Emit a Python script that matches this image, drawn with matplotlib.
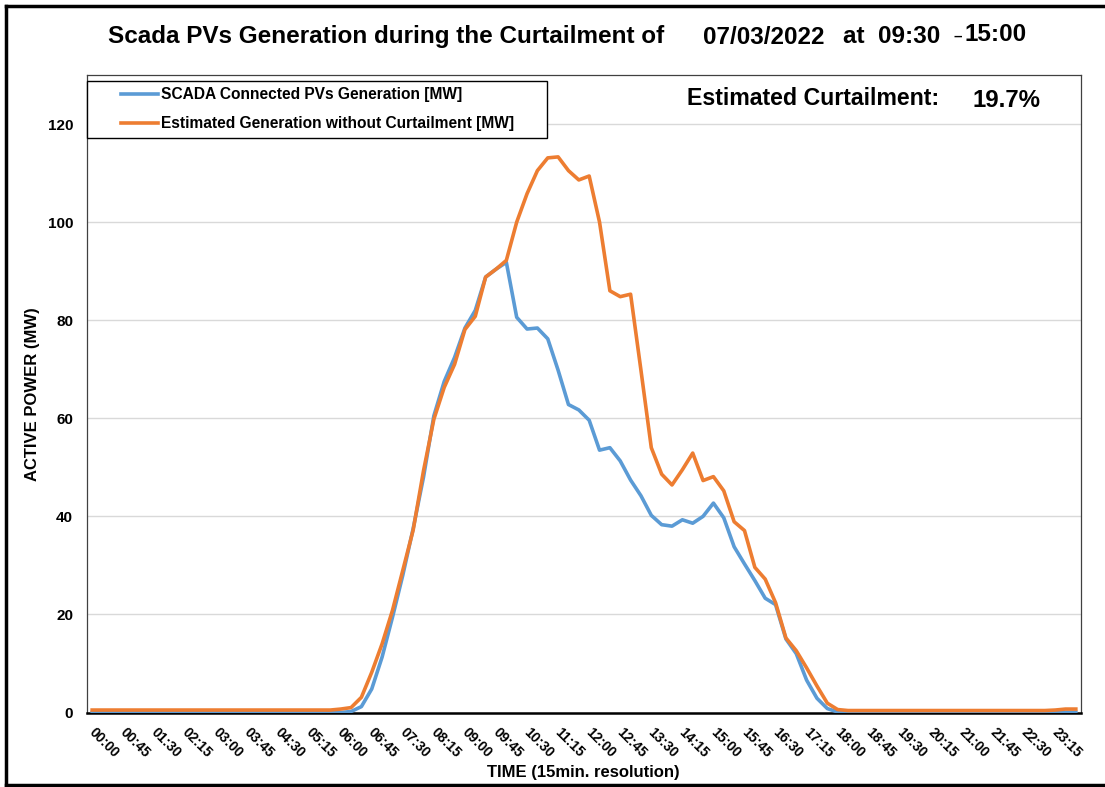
import numpy as np
import matplotlib
matplotlib.use("Agg")
import matplotlib.pyplot as plt
import matplotlib.transforms as mtransforms
from matplotlib.patches import Rectangle
from matplotlib.lines import Line2D

plt.rcParams['font.family'] = ['Liberation Sans', 'DejaVu Sans']
plt.rcParams['font.weight'] = 'bold'

# 15 min categories for one day
times = ["%02d:%02d" % (h, m) for h in range(24) for m in (0, 15, 30, 45)]

# SCADA measured generation [MW]
scada = [0.0] * 25 + [
    0.2, 1.2, 4.8, 11.3, 19.4, 28.0, 37.5, 48.0, 60.5, 67.5,
    72.4, 78.4, 82.0, 88.8, 90.4, 91.8, 80.6, 78.2, 78.4, 76.2,
    69.8, 62.8, 61.7, 59.6, 53.5, 54.0, 51.3, 47.4, 44.2, 40.2,
    38.3, 38.0, 39.3, 38.6, 40.0, 42.7, 39.7, 33.8, 30.3, 26.9,
    23.3, 22.0, 15.0, 12.0, 6.6, 2.9, 0.8, 0.1,
] + [0.05] * 23

# estimated generation without curtailment [MW]
estimated = [0.5] * 24 + [
    0.7, 1.0, 3.1, 8.2, 14.0, 20.8, 29.0, 37.2, 49.3, 59.8,
    66.3, 71.0, 78.1, 80.8, 88.8, 90.4, 92.2, 100.0, 105.8, 110.5,
    113.1, 113.3, 110.5, 108.6, 109.4, 100.0, 86.0, 84.8, 85.3, 69.8,
    54.0, 48.6, 46.4, 49.5, 52.9, 47.3, 48.1, 45.2, 38.9, 37.1,
    29.6, 27.2, 22.4, 15.2, 12.6, 9.1, 5.4, 1.9, 0.6,
] + [0.4] * 20 + [0.5, 0.7, 0.7]

curtailment_pct = 19.7
W, H = 1105, 787


def fx(x):
    return x / W


def fy(y):
    return 1 - y / H


fig = plt.figure(figsize=(W / 100, H / 100), dpi=100)
ax = fig.add_axes([fx(87), fy(712.5), fx(1081) - fx(87), fy(75) - fy(712.5)])

x = np.arange(len(times))
ax.plot(x, scada, color='#5B9BD5', lw=2.6, zorder=3,
        label='SCADA Connected PVs Generation [MW]')
ax.plot(x, estimated, color='#ED7D31', lw=2.6, zorder=4,
        label='Estimated Generation without Curtailment [MW]')

ax.set_xlim(-0.5, len(times) - 0.5)
ax.set_ylim(0, 130)
ax.set_yticks(range(0, 121, 20))
ax.set_xticks(x[::3])
ax.set_xticklabels(times[::3], rotation=-45, rotation_mode='anchor',
                   ha='left', va='top', fontsize=10, fontweight='bold')
ax.tick_params(axis='x', length=0, pad=9.5)
ax.tick_params(axis='y', length=0, pad=10, labelsize=11)
# nudge the slanted labels a little to the right
shift = mtransforms.ScaledTranslation(4 / 100, 0, fig.dpi_scale_trans)
for lab in ax.get_xticklabels():
    lab.set_transform(lab.get_transform() + shift)
for lab in ax.get_yticklabels():
    lab.set_fontweight('bold')
ax.grid(axis='y', color='#d9d9d9', lw=1)
ax.set_axisbelow(True)
for side in ('left', 'top', 'right'):
    ax.spines[side].set_color('#404040')
    ax.spines[side].set_linewidth(0.9)
ax.spines['bottom'].set_color('black')
ax.spines['bottom'].set_linewidth(1.8)

fig.text(fx(33), fy(394), 'ACTIVE POWER (MW)', rotation=90, ha='center', va='center',
         fontsize=12, fontweight='bold')
fig.text(fx(583), fy(773), 'TIME (15min. resolution)', ha='center', va='center',
         fontsize=12, fontweight='bold')

# legend box
ax.add_patch(Rectangle((fx(87), fy(138)), fx(547) - fx(87), fy(81) - fy(138),
                       transform=fig.transFigure, facecolor='white', edgecolor='black',
                       lw=1, zorder=5, clip_on=False))
leg = ax.legend(loc='upper left', bbox_to_anchor=(fx(118), fy(84)),
                bbox_transform=fig.transFigure, frameon=False, fontsize=11.2,
                handlelength=2.4, handletextpad=0.15, labelspacing=0.9,
                borderaxespad=0, borderpad=0.2)
leg.set_zorder(6)
for t in leg.get_texts():
    t.set_fontweight('bold')

# title pieces
tsize = 17.5
fig.text(fx(108), fy(43), 'Scada PVs Generation during the Curtailment of',
         fontsize=tsize, fontweight='bold', va='baseline')
fig.text(fx(703), fy(44), '07/03/2022', fontsize=tsize, fontweight='bold', va='baseline')
fig.text(fx(843), fy(43), 'at  09:30', fontsize=tsize, fontweight='bold', va='baseline')
fig.text(fx(953), fy(37), '\u2013', fontsize=11, fontweight='bold', va='center')
fig.text(fx(965), fy(41), '15:00', fontsize=tsize, fontweight='bold', va='baseline')

fig.text(fx(687), fy(105), 'Estimated Curtailment:', fontsize=16.7,
         fontweight='bold', va='baseline')
fig.text(fx(973), fy(107), '%.1f%%' % curtailment_pct, fontsize=17.3,
         fontweight='bold', va='baseline')

# outer chart border (left, top, bottom only; right edge falls off the image)
for xs, ys in [((6, 6), (6, 785)), ((6, W), (6, 6)), ((6, W), (785, 785))]:
    fig.add_artist(Line2D([fx(v) for v in xs], [fy(v) for v in ys],
                          transform=fig.transFigure, color='black', lw=2.5,
                          solid_capstyle='projecting'))

fig.savefig('out.png', dpi=100, facecolor='white')
